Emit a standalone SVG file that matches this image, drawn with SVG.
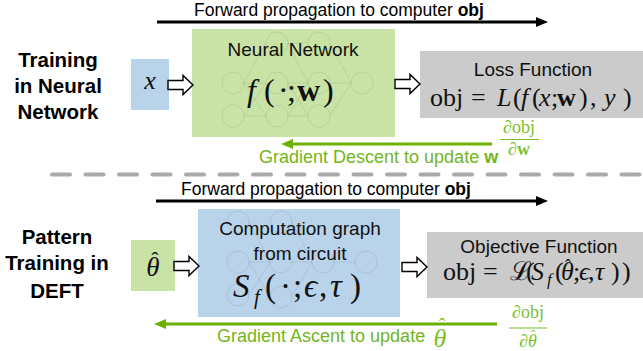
<svg xmlns="http://www.w3.org/2000/svg" width="643" height="351" viewBox="0 0 643 351">
<defs>
<style>
.lbl{font-family:"Liberation Sans",Arial,sans-serif;font-weight:bold;font-size:20.5px;fill:#000;text-anchor:middle;}
.fwd{font-family:"Liberation Sans",Arial,sans-serif;font-size:17.5px;fill:#000;}
.title{font-family:"Liberation Sans",Arial,sans-serif;font-size:19px;fill:#111;text-anchor:middle;}
.grad{font-family:"Liberation Sans",Arial,sans-serif;font-size:18px;fill:#72b51c;}
.math{font-family:"Liberation Serif","DejaVu Serif",serif;fill:#111;}
.gmath{font-family:"Liberation Serif","DejaVu Serif",serif;fill:#7cbf2a;}
.it{font-style:italic;}
.bf{font-weight:bold;}
.green{fill:#c9e2a6;}
.blue{fill:#b9d3eb;}
.gray{fill:#cbcbcb;}
.net circle{fill:none;stroke:#000;stroke-opacity:0.08;stroke-width:1;}
.net line{stroke:#000;stroke-opacity:0.07;stroke-width:1;}
.blk{stroke:#000;stroke-width:3;fill:none;}
.grn{stroke:#6cb000;stroke-width:3;fill:none;}
.hollow{fill:#fff;stroke:#000;stroke-width:1.4;stroke-linejoin:miter;}
</style>
<path id="ha" d="M0,-4.5 H15 V-9.5 L25,0 L15,9.5 V4.5 H0 Z"/>
<marker id="mb" markerWidth="12" markerHeight="10" refX="0" refY="5" orient="auto" markerUnits="userSpaceOnUse"><path d="M0,0 L12,5 L0,10 Z" fill="#000"/></marker>
<marker id="mg" markerWidth="12" markerHeight="10" refX="0" refY="5" orient="auto" markerUnits="userSpaceOnUse"><path d="M0,0 L12,5 L0,10 Z" fill="#6cb000"/></marker>
</defs>
<rect width="643" height="351" fill="#fff"/>

<g id="label-top"><text class="lbl" x="58" y="67">Training</text><text class="lbl" x="58" y="93">in Neural</text><text class="lbl" x="58" y="119">Network</text></g>
<g id="label-bottom"><text class="lbl" x="57" y="244">Pattern</text><text class="lbl" x="57" y="270">Training in</text><text class="lbl" x="57" y="298">DEFT</text></g>

<g id="input-x"><rect class="blue" x="131" y="59" width="38" height="51"/><text class="math it" x="150" y="89" font-size="26" text-anchor="middle">x</text></g>

<g id="neural-network">
<rect class="green" x="192" y="29" width="203" height="108"/>
<g class="net">
<line x1="244" y1="83" x2="266" y2="43"/><line x1="244" y1="83" x2="266" y2="116"/><line x1="244" y1="116" x2="266" y2="83"/><line x1="244" y1="83" x2="266" y2="83"/><line x1="244" y1="116" x2="266" y2="116"/>
<line x1="288" y1="43" x2="308" y2="43"/><line x1="288" y1="43" x2="308" y2="83"/><line x1="288" y1="83" x2="308" y2="83"/><line x1="288" y1="116" x2="308" y2="116"/><line x1="288" y1="116" x2="308" y2="83"/><line x1="288" y1="83" x2="308" y2="116"/>
<line x1="330" y1="43" x2="351" y2="83"/><line x1="330" y1="83" x2="351" y2="83"/><line x1="330" y1="116" x2="351" y2="83"/>
<circle cx="233" cy="83" r="11"/><circle cx="233" cy="116" r="11"/><circle cx="277" cy="43" r="11"/><circle cx="277" cy="83" r="11"/><circle cx="277" cy="116" r="11"/><circle cx="319" cy="43" r="11"/><circle cx="319" cy="83" r="11"/><circle cx="319" cy="116" r="11"/><circle cx="362" cy="83" r="11"/>
</g>
<text class="title" x="293" y="56" font-size="19.5">Neural Network</text>
<text class="math" y="101" font-size="32"><tspan class="it" x="247">f</tspan><tspan x="264">(</tspan><tspan x="278">·</tspan><tspan x="287">;</tspan><tspan class="bf" x="297">w</tspan><tspan x="323">)</tspan></text>
</g>

<g id="loss-function">
<rect class="gray" x="420" y="51" width="223" height="67"/>
<text class="title" x="533" y="76">Loss Function</text>
<text class="math" y="106" font-size="26"><tspan x="430">obj</tspan><tspan x="471">=</tspan><tspan class="it" x="497">L</tspan><tspan x="513">(</tspan><tspan class="it" x="521">f</tspan><tspan x="532">(</tspan><tspan class="it" x="539">x</tspan><tspan x="551">;</tspan><tspan class="bf" x="557">w</tspan><tspan x="579">)</tspan><tspan x="590">,</tspan><tspan class="it" x="604">y</tspan><tspan x="623">)</tspan></text>
</g>

<g id="theta-input"><rect class="green" x="131" y="240" width="44" height="51"/><text class="math it" x="153" y="276" font-size="27" text-anchor="middle">θ</text><text class="math" x="155" y="267" font-size="22" text-anchor="middle">ˆ</text></g>

<g id="computation-graph">
<rect class="blue" x="198" y="209" width="202" height="108"/>
<g class="net">
<line x1="249" y1="222" x2="270" y2="262"/><line x1="249" y1="262" x2="270" y2="262"/><line x1="249" y1="295" x2="270" y2="262"/><line x1="249" y1="262" x2="270" y2="297"/>
<line x1="292" y1="262" x2="312" y2="262"/><line x1="292" y1="297" x2="312" y2="262"/><line x1="292" y1="222" x2="312" y2="262"/>
<line x1="334" y1="262" x2="355" y2="262"/>
<circle cx="238" cy="222" r="11"/><circle cx="238" cy="262" r="11"/><circle cx="238" cy="295" r="11"/><circle cx="281" cy="222" r="11"/><circle cx="281" cy="262" r="11"/><circle cx="281" cy="297" r="11"/><circle cx="323" cy="262" r="11"/><circle cx="366" cy="262" r="11"/>
</g>
<text class="title" x="300" y="235" font-size="19.5">Computation graph</text>
<text class="title" x="300" y="260" font-size="19.5">from circuit</text>
<text class="math" font-size="33"><tspan class="it" x="233" y="297">S</tspan><tspan class="it" x="254" y="304" font-size="21">f</tspan><tspan x="265" y="297">(</tspan><tspan x="280" y="297">·</tspan><tspan x="293" y="297">;</tspan><tspan class="it" x="304" y="297">ϵ</tspan><tspan x="319" y="297">,</tspan><tspan class="it" x="330" y="297">τ</tspan><tspan x="350" y="297">)</tspan></text>
</g>

<g id="objective-function">
<rect class="gray" x="427" y="232" width="216" height="66"/>
<text class="title" x="539" y="253">Objective Function</text>
<text class="math" font-size="26"><tspan x="443" y="280">obj</tspan><tspan x="483" y="280">=</tspan><tspan x="510" y="280">ℒ</tspan><tspan x="526" y="280">(</tspan><tspan class="it" x="531" y="280">S</tspan><tspan class="it" x="547" y="285" font-size="17">f</tspan><tspan x="555" y="280">(</tspan><tspan class="it" x="561" y="280">θ</tspan><tspan x="573" y="280">;</tspan><tspan class="it" x="579" y="280">ϵ</tspan><tspan x="588" y="280">,</tspan><tspan class="it" x="595" y="280">τ</tspan><tspan x="611" y="280">)</tspan><tspan x="622" y="280">)</tspan></text>
<text class="math" x="568" y="272" font-size="18" text-anchor="middle">ˆ</text>
</g>

<g id="connectors">
<line class="blk" x1="157" y1="22" x2="536" y2="22" marker-end="url(#mb)"/>
<text class="fwd" x="194" y="16">Forward propagation to computer <tspan class="bf">obj</tspan></text>
<line class="blk" x1="156" y1="201" x2="536" y2="201" marker-end="url(#mb)"/>
<text class="fwd" x="181" y="195">Forward propagation to computer <tspan class="bf">obj</tspan></text>
<use href="#ha" class="hollow" x="168" y="85"/>
<use href="#ha" class="hollow" x="395" y="84"/>
<use href="#ha" class="hollow" x="174" y="266"/>
<use href="#ha" class="hollow" x="402" y="267"/>
<line class="grn" x1="492" y1="144" x2="293" y2="144" marker-end="url(#mg)"/>
<text class="grad" x="259" y="163">Gradient Descent to update <tspan class="bf">w</tspan></text>
<line class="grn" x1="497" y1="324" x2="166" y2="324" marker-end="url(#mg)"/>
<text class="grad" x="217" y="342">Gradient Ascent to update</text>
<text class="gmath it" x="440" y="347" font-size="26" text-anchor="middle">θ</text><text class="gmath" x="442" y="333" font-size="20" text-anchor="middle">ˆ</text>
<g id="frac-top"><text class="gmath" x="519" y="133" font-size="18" text-anchor="middle">∂obj</text><line x1="500" y1="139.5" x2="539" y2="139.5" stroke="#7cbf2a" stroke-width="1"/><text class="gmath" x="519" y="155" font-size="18" text-anchor="middle">∂<tspan class="bf">w</tspan></text></g>
<g id="frac-bottom"><text class="gmath" x="528" y="318" font-size="18" text-anchor="middle">∂obj</text><line x1="509" y1="328" x2="547" y2="328" stroke="#7cbf2a" stroke-width="1"/><text class="gmath" x="528" y="347" font-size="18" text-anchor="middle">∂<tspan class="it">θ</tspan></text><text class="gmath" x="533" y="340" font-size="14" text-anchor="middle">ˆ</text></g>
<line x1="52" y1="174.5" x2="643" y2="174.5" stroke="#aaaaaa" stroke-width="4" stroke-linecap="round" stroke-dasharray="18 15.5"/>
</g>
</svg>
